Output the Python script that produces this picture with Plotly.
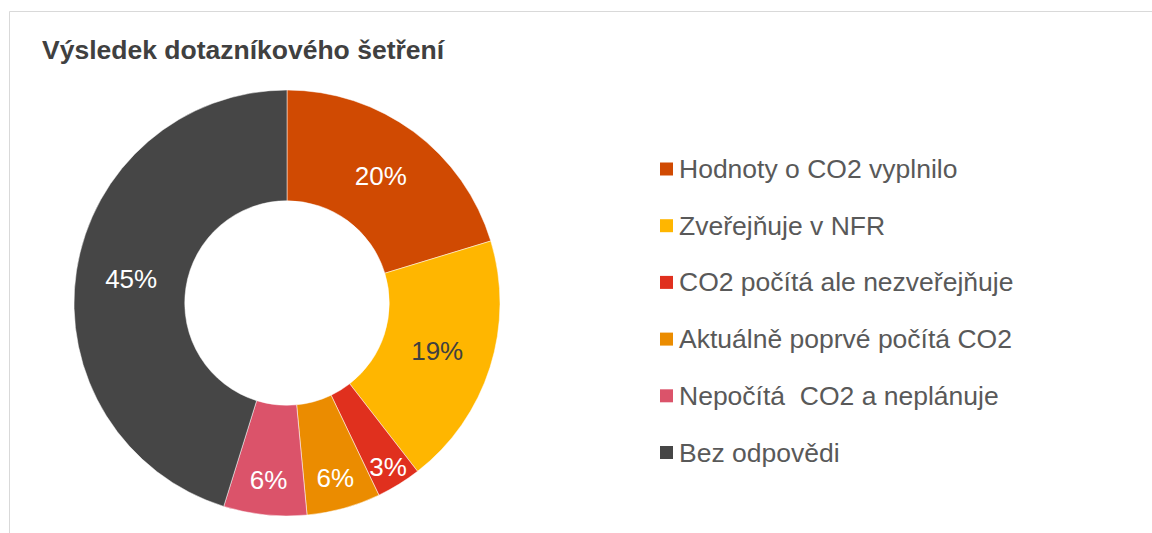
import plotly.graph_objects as go

# ---- data ----
categories = [
    "Hodnoty o CO2 vyplnilo",
    "Zveřejňuje v NFR",
    "CO2 počítá ale nezveřejňuje",
    "Aktuálně poprvé počítá CO2",
    "Nepočítá  CO2 a neplánuje",
    "Bez odpovědi",
]
values = [20.3, 19.2, 3.4, 5.6, 6.3, 45.2]
slice_labels = ["20%", "19%", "3%", "6%", "6%", "45%"]
colors = ["#D04A02", "#FFB600", "#E0301E", "#EB8C00", "#DB536A", "#464646"]
text_colors = ["#FFFFFF", "#404040", "#FFFFFF", "#FFFFFF", "#FFFFFF", "#FFFFFF"]
title_text = "Výsledek dotazníkového šetření"

W, H = 1152, 533
FONT = "Arial, 'Liberation Sans', sans-serif"

def px(x):
    return x / W

def py(y):
    return (H - y) / H

fig = go.Figure()
fig.add_trace(go.Pie(
    labels=categories,
    values=values,
    text=slice_labels,
    textinfo="text",
    textposition="inside",
    insidetextorientation="horizontal",
    sort=False,
    direction="clockwise",
    rotation=0,
    hole=0.48,
    marker=dict(colors=colors, line=dict(color="#FFFFFF", width=0.5)),
    textfont=dict(family=FONT, size=26, color=text_colors),
    domain=dict(x=[px(74), px(500)], y=[py(516), py(90)]),
    showlegend=False,
    hoverinfo="label+percent",
))

shapes = [
    dict(type="line", xref="paper", yref="paper",
         x0=px(9.5), x1=1.0, y0=py(11.5), y1=py(11.5),
         line=dict(color="#D9D9D9", width=1), layer="below"),
    dict(type="line", xref="paper", yref="paper",
         x0=px(9.5), x1=px(9.5), y0=py(11.5), y1=0.0,
         line=dict(color="#D9D9D9", width=1), layer="below"),
]
annotations = []
y0_leg, step = 169, 56.7
for i, (cat, col) in enumerate(zip(categories, colors)):
    yc = y0_leg + i * step
    shapes.append(dict(type="rect", xref="paper", yref="paper",
                       x0=px(660), x1=px(673), y0=py(yc + 6.5), y1=py(yc - 6.5),
                       line=dict(width=0), fillcolor=col))
    annotations.append(dict(text=cat, xref="paper", yref="paper",
                            x=px(677), y=py(yc), xanchor="left", yanchor="middle",
                            showarrow=False,
                            font=dict(family=FONT, size=26.5, color="#595959")))

fig.update_layout(
    width=W, height=H,
    margin=dict(l=0, r=0, t=0, b=0),
    paper_bgcolor="#FFFFFF",
    plot_bgcolor="#FFFFFF",
    title=dict(text="<b>" + title_text + "</b>", xref="paper", yref="paper",
               x=px(42), xanchor="left", y=py(50), yanchor="middle",
               font=dict(family=FONT, size=26.5, color="#404040")),
    uniformtext=dict(minsize=26, mode="show"),
    shapes=shapes,
    annotations=annotations,
)

fig.write_html(
    "out.html",
    config={"displayModeBar": False},
    post_script="document.body.style.margin='0';document.body.style.overflow='hidden';",
)
